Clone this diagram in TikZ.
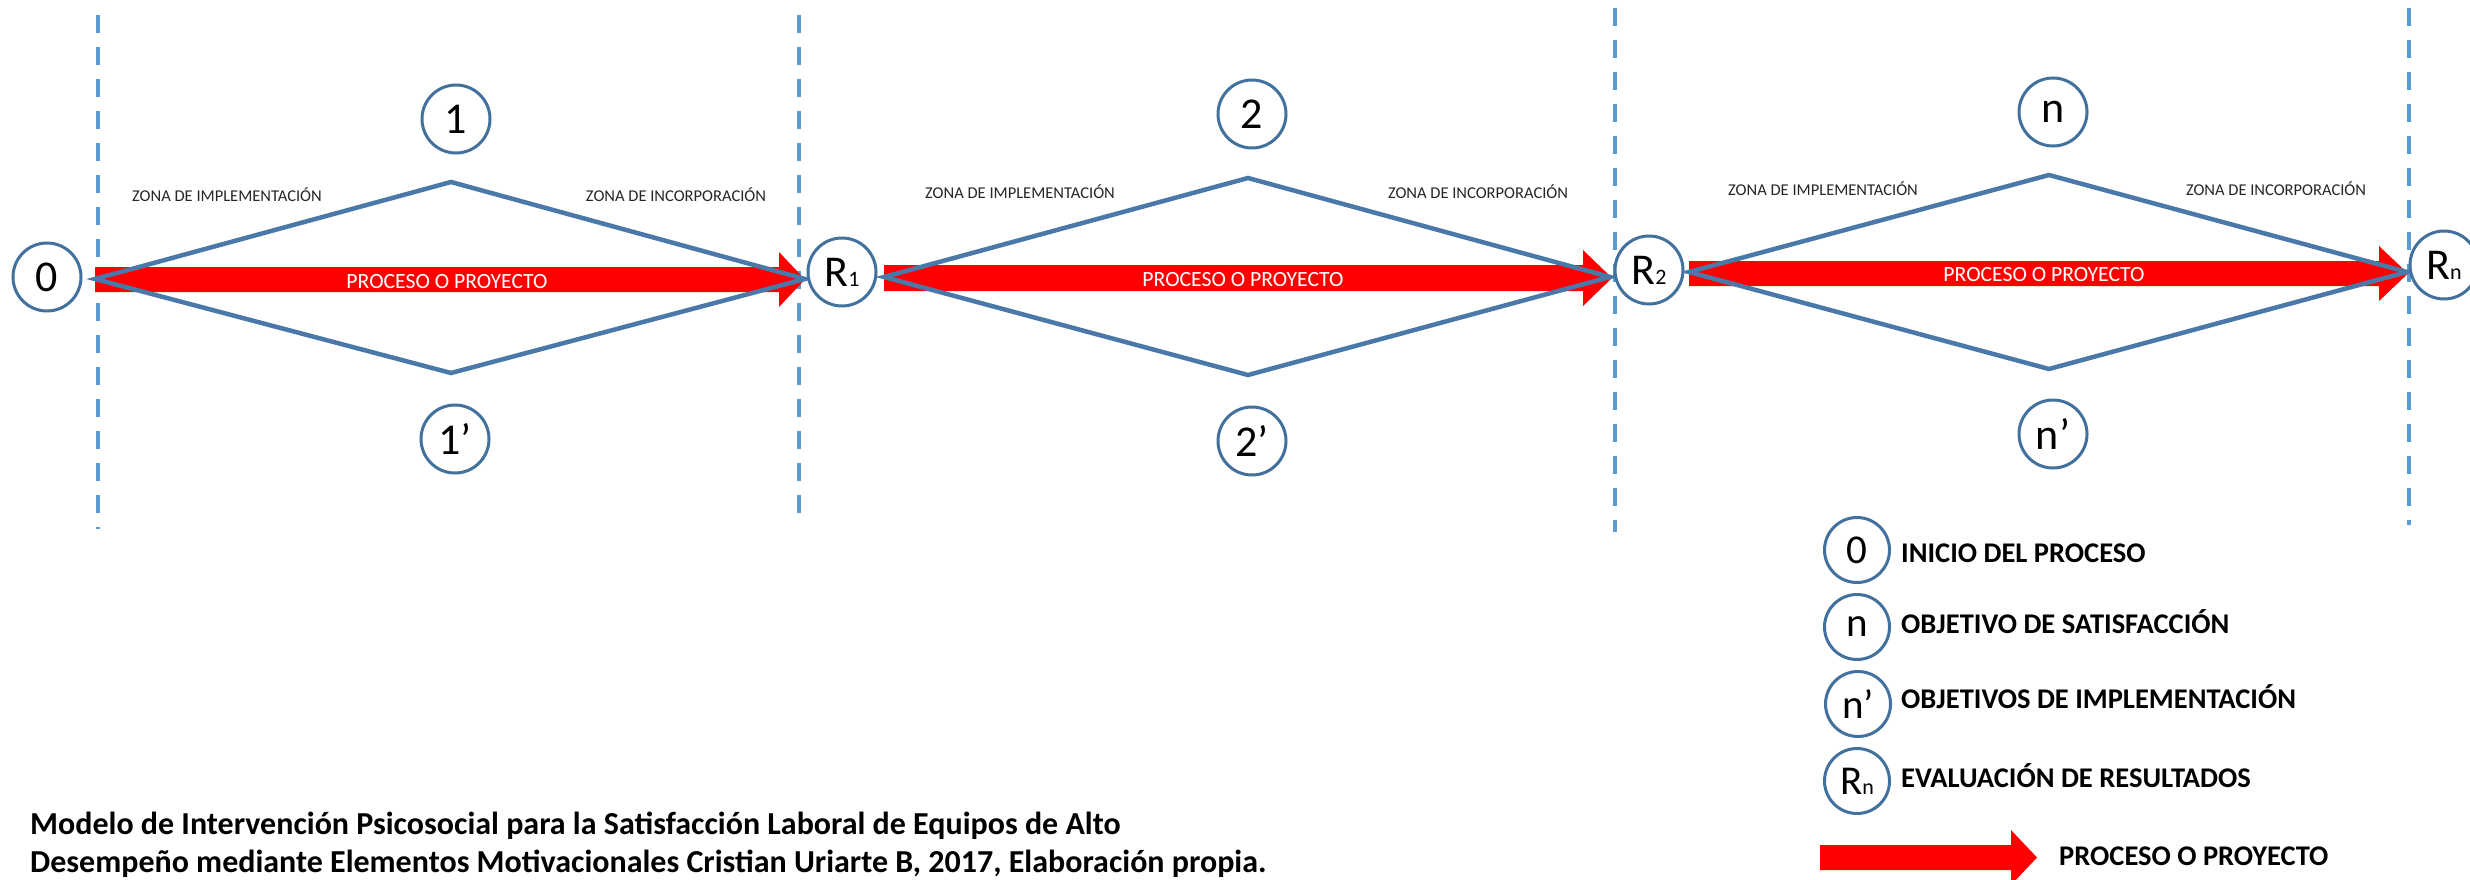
\documentclass[tikz,border=0pt]{standalone}
\usepackage{fontspec}
\setmainfont{Carlito}
\definecolor{dashblue}{HTML}{5B9BD5}
\definecolor{linblue}{HTML}{4A78A8}
\definecolor{circblue}{HTML}{41719C}
\definecolor{zonetext}{HTML}{262626}
\newcommand\smalldig[1]{{\fontsize{22}{22}\selectfont #1}}
\tikzset{
 guide/.style={draw=dashblue, line width=4pt, dash pattern=on 18pt off 14pt},
 zone/.style={draw=linblue, line width=4.5pt, line join=miter},
 circ/.style={circle, draw=circblue, line width=3pt, minimum size=68pt, inner sep=0pt, fill=white, font=\fontsize{44}{44}\selectfont},
 lcirc/.style={circ, minimum size=65pt, font=\fontsize{41}{41}\selectfont},
 zlabel/.style={anchor=base, inner sep=0pt, text=zonetext, font=\fontsize{16.5}{16.5}\selectfont},
 plabel/.style={anchor=base, inner sep=0pt, text=white, font=\fontsize{21.7}{21.7}\selectfont},
 ltext/.style={anchor=base west, inner sep=0pt, font=\bfseries\fontsize{28.5}{28.5}\selectfont},
 captext/.style={anchor=base west, inner sep=0pt, font=\bfseries\fontsize{32}{32}\selectfont},
 procarrow/.style={fill=red, draw=none},
}
\begin{document}
\begin{tikzpicture}[x=1pt,y=-1pt]
\fill[white] (0,0) rectangle (2470,880);
\useasboundingbox (0,0) rectangle (2470,880);
\begin{scope}
\clip (0,0) rectangle (2470,880);

% dashed guide lines
\draw[guide] (98,15) -- (98,529);
\draw[guide] (799,15) -- (799,527);
\draw[guide] (1615,8) -- (1615,532);
\draw[guide] (2409,8) -- (2409,525);

% red process arrows
\fill[procarrow] (95,267) -- (779,267) -- (779,252) -- (805,279.5) -- (779,307) -- (779,292) -- (95,292) -- cycle;
\fill[procarrow] (884,265) -- (1583,265) -- (1583,250) -- (1612,278) -- (1583,306) -- (1583,291) -- (884,291) -- cycle;
\fill[procarrow] (1689,261) -- (2379,261) -- (2379,246) -- (2408,273.5) -- (2379,301) -- (2379,286) -- (1689,286) -- cycle;
\fill[procarrow] (1820,845) -- (2011,845) -- (2011,830) -- (2037,857.5) -- (2011,885) -- (2011,870) -- (1820,870) -- cycle;

% diamond vertices
\coordinate (d1l) at (95,279); \coordinate (d1t) at (451,182);
\coordinate (d1r) at (805,279); \coordinate (d1b) at (451,373);
\coordinate (d2l) at (884,277); \coordinate (d2t) at (1248,178);
\coordinate (d2r) at (1610,277); \coordinate (d2b) at (1248,375);
\coordinate (d3l) at (1689,272); \coordinate (d3t) at (2049,175);
\coordinate (d3r) at (2407,272); \coordinate (d3b) at (2049,369);
\draw[zone] (d1l) -- (d1t) -- (d1r) -- (d1b) -- cycle;
\draw[zone] (d2l) -- (d2t) -- (d2r) -- (d2b) -- cycle;
\draw[zone] (d3l) -- (d3t) -- (d3r) -- (d3b) -- cycle;

% process labels
\node[plabel] (p1) at (447,288) {PROCESO O PROYECTO};
\node[plabel] (p2) at (1243,286) {PROCESO O PROYECTO};
\node[plabel] (p3) at (2044,281) {PROCESO O PROYECTO};

% zone labels
\node[zlabel] (z1a) at (227,201) {ZONA DE IMPLEMENTACIÓN};
\node[zlabel] (z1b) at (676,201) {ZONA DE INCORPORACIÓN};
\node[zlabel] (z2a) at (1020,198) {ZONA DE IMPLEMENTACIÓN};
\node[zlabel] (z2b) at (1478,198) {ZONA DE INCORPORACIÓN};
\node[zlabel] (z3a) at (1823,195) {ZONA DE IMPLEMENTACIÓN};
\node[zlabel] (z3b) at (2276,195) {ZONA DE INCORPORACIÓN};

% circles
\node[circ] (c0) at (47,277) {0};
\node[circ] (c1) at (456,119) {1};
\node[circ] (c1p) at (455,439) {1’};
\node[circ] (r1) at (842,272) {R\smalldig{1}};
\node[circ] (c2) at (1252,114) {2};
\node[circ] (c2p) at (1252,441) {2’};
\node[circ] (r2) at (1649,270) {R\smalldig{2}};
\node[circ] (cn) at (2053,112) {n};
\node[circ] (cnp) at (2053,434) {n’};
\node[circ] (rn) at (2444,265) {R\smalldig{n}};

% legend
\node[lcirc] (l0) at (1857,550) {0};
\node[lcirc] (ln) at (1857,627) {n};
\node[lcirc] (lnp) at (1858,704) {n’};
\node[lcirc] (lrn) at (1857,781) {R\smalldig{n}};
\node[ltext] (t0) at (1901,562) {INICIO DEL PROCESO};
\node[ltext] (tn) at (1901,633) {OBJETIVO DE SATISFACCIÓN};
\node[ltext] (tnp) at (1901,708) {OBJETIVOS DE IMPLEMENTACIÓN};
\node[ltext] (trn) at (1901,787) {EVALUACIÓN DE RESULTADOS};
\node[ltext] (tp) at (2059,865) {PROCESO O PROYECTO};

% caption
\node[captext] (cap1) at (30,834) {Modelo de Intervención Psicosocial para la Satisfacción Laboral de Equipos de Alto};
\node[captext] (cap2) at (30,872) {Desempeño mediante Elementos Motivacionales Cristian Uriarte B, 2017, Elaboración propia.};
\end{scope}
\end{tikzpicture}
\end{document}
